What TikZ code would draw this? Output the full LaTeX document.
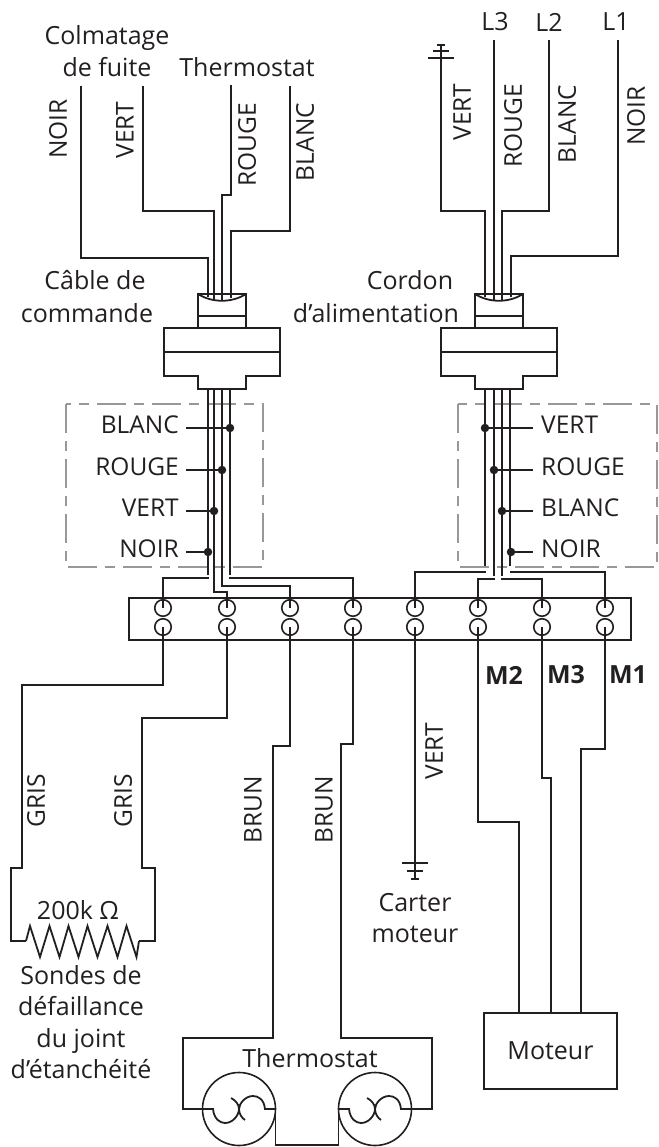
\documentclass[tikz,border=0pt]{standalone}
\usepackage{fontspec}
\setmainfont{Open Sans}
\usetikzlibrary{positioning}
\definecolor{ink}{HTML}{231F20}
\definecolor{dashgray}{HTML}{989898}
\tikzstyle{wire} = [color=ink,line width=1.8pt,line join=miter]
\tikzstyle{dashbox} = [color=dashgray,line width=1.6pt,dash pattern=on 29pt off 8pt on 10pt off 8pt]
\tikzstyle{tag} = [text=ink,font=\fontsize{24.5}{30}\selectfont,inner sep=0pt]
\tikzstyle{capt} = [tag,align=center,font=\fontsize{25}{31.5}\selectfont]
\tikzstyle{term} = [circle,draw=ink,line width=1.6pt,minimum size=16.5pt,inner sep=0pt,outer sep=0pt]
\tikzstyle{dot} = [circle,fill=ink,minimum size=8.5pt,inner sep=0pt,outer sep=0pt]
\tikzstyle{bulb} = [circle,draw=ink,line width=1.6pt,minimum size=73pt,inner sep=0pt,outer sep=0pt]
\tikzstyle{process} = [rectangle,draw=ink,line width=1.8pt,inner sep=0pt,outer sep=0pt]

\begin{document}
\begin{tikzpicture}[x=1pt,y=-1pt]
	\useasboundingbox (0,0) rectangle (658,1147);

	%captions
	\node (colm) [capt] at (107,51) {Colmatage\\de fuite};
	\node (thtop) [capt] at (247,67) {Thermostat};
	\node (L3) [capt] at (495,22) {L3};
	\node (L2) [capt] at (549,22) {L2};
	\node (L1) [capt] at (616,22) {L1};
	\node (cable) [capt] at (95,280) {Câble de};
	\node (comm) [capt] at (87,313) {commande};
	\node (cord) [capt] at (410,280) {Cordon};
	\node (alim) [capt] at (376,313) {d’alimentation};

	%wire colours, top
	\node (tN1) [tag,rotate=90] at (58,129) {NOIR};
	\node (tV1) [tag,rotate=90] at (125,130) {VERT};
	\node (tR1) [tag,rotate=90] at (247,145) {ROUGE};
	\node (tB1) [tag,rotate=90] at (305,142) {BLANC};
	\node (tV2) [tag,rotate=90] at (462,112) {VERT};
	\node (tR2) [tag,rotate=90] at (513,126) {ROUGE};
	\node (tB2) [tag,rotate=90] at (567,124) {BLANC};
	\node (tN2) [tag,rotate=90] at (636,116) {NOIR};

	%cable glands
	\foreach \gx in {222,499} {
		\begin{scope}[xshift=\gx pt]
			\draw [wire] (-24,328) -- (-24,294) -- (24,294) -- (24,328);
			\draw [wire] (-24,294) .. controls (-10,303) and (10,303) .. (24,294);
			\draw [wire] (-24,316) -- (24,316);
			\draw [wire] (-24,328) -- (-58,328) -- (-58,376) -- (-24,376) -- (-24,389) -- (24,389) -- (24,376) -- (58,376) -- (58,328) -- (24,328) -- cycle;
			\draw [wire] (-58,352) -- (58,352);
		\end{scope}
	}

	%wires into left gland
	\coordinate (wN1) at (81,86);
	\coordinate (wV1) at (143,86);
	\coordinate (wR1) at (231,85);
	\coordinate (wB1) at (290,86);
	\coordinate (gN1) at (208,297);
	\coordinate (gV1) at (214,299);
	\coordinate (gR1) at (222,300);
	\coordinate (gB1) at (231,298);
	\draw [wire] (wN1) |- (208,258) -- (gN1);
	\draw [wire] (wV1) |- (214,211) -- (gV1);
	\draw [wire] (wR1) |- (222,195) -- (gR1);
	\draw [wire] (wB1) |- (231,231) -- (gB1);

	%wires into right gland
	\coordinate (wV2) at (441,45);
	\coordinate (wR2) at (494,40);
	\coordinate (wB2) at (549,40);
	\coordinate (wN2) at (618,40);
	\coordinate (gV2) at (485,297);
	\coordinate (gR2) at (494,300);
	\coordinate (gB2) at (502,300);
	\coordinate (gN2) at (511,297);
	\draw [wire] (wV2) |- (485,211) -- (gV2);
	\draw [wire] (wR2) -- (gR2);
	\draw [wire] (wB2) |- (502,211) -- (gB2);
	\draw [wire] (wN2) |- (511,256) -- (gN2);
	\draw [wire] (wV2) ++(-4,0) -- ++(8,0);
	\draw [wire] (wV2) ++(-8,6) -- ++(16,0);
	\draw [wire] (wV2) ++(-13,13) -- ++(26,0);

	%dashed boxes
	\draw [dashbox] (66,404) rectangle (263,567);
	\draw [dashbox] (458,404) rectangle (657,567);

	%terminal block
	\node (block) [process,minimum width=502pt,minimum height=42pt] at (380,619) {};
	\foreach \i/\tx in {1/163,2/227,3/290,4/353,5/415,6/478,7/542,8/605} {
		\node (Tu\i) [term] at (\tx,608) {};
		\node (Td\i) [term] at (\tx,627) {};
	}

	%wires out of left gland
	\coordinate (bN1) at (208,389);
	\coordinate (bV1) at (214,389);
	\coordinate (bR1) at (222,389);
	\coordinate (bB1) at (230,389);
	\coordinate (eN1) at (208,575);
	\coordinate (eB1) at (230,575);
	\coordinate (hN1) at (209,578);
	\coordinate (hB1) at (229,578);
	\draw [wire] (bN1) -- (eN1);
	\draw [wire] (hN1) -| (Tu1.center);
	\draw [wire] (bV1) |- (227,592) -- (Tu2.center);
	\draw [wire] (bR1) |- (290,586) -- (Tu3.center);
	\draw [wire] (bB1) -- (eB1);
	\draw [wire] (hB1) -| (Tu4.center);

	%wires out of right gland
	\coordinate (bV2) at (485,389);
	\coordinate (bR2) at (494,389);
	\coordinate (bB2) at (502,389);
	\coordinate (bN2) at (510,389);
	\coordinate (eV2) at (485,566);
	\coordinate (eR2) at (494,576);
	\coordinate (eB2) at (502,576);
	\coordinate (eN2) at (510,566);
	\coordinate (hV2) at (486,572);
	\coordinate (hR2) at (495,579);
	\coordinate (hB2) at (501,579);
	\coordinate (hN2) at (510,572);
	\draw [wire] (bV2) -- (eV2);
	\draw [wire] (bR2) -- (eR2);
	\draw [wire] (bB2) -- (eB2);
	\draw [wire] (bN2) -- (eN2);
	\draw [wire] (hV2) -| (Tu5.center);
	\draw [wire] (hR2) -| (Tu6.center);
	\draw [wire] (hB2) -| (Tu7.center);
	\draw [wire] (hN2) -| (Tu8.center);

	%taps, left
	\foreach \n/\txt/\px/\py in {a/BLANC/230/428,b/ROUGE/222/470,c/VERT/214/511,d/NOIR/208/552} {
		\node (dl\n) [dot] at (\px,\py) {};
		\node (ll\n) [tag,anchor=east] at (179,\py-3) {\txt};
		\draw [wire] ([xshift=7pt]ll\n.east |- dl\n) -- (dl\n);
	}
	%taps, right
	\foreach \n/\txt/\px/\py in {a/VERT/485/428,b/ROUGE/494/470,c/BLANC/502/511,d/NOIR/511/552} {
		\node (dr\n) [dot] at (\px,\py) {};
		\node (lr\n) [tag,anchor=west] at (541,\py-3) {\txt};
		\draw [wire] (dr\n) -- ([xshift=-8pt]lr\n.west |- dr\n);
	}

	%motor side
	\node (M2) [tag,font=\fontsize{25}{30}\selectfont\bfseries] at (504,675) {M2};
	\node (M3) [tag,font=\fontsize{25}{30}\selectfont\bfseries] at (566,675) {M3};
	\node (M1) [tag,font=\fontsize{25}{30}\selectfont\bfseries] at (628,675) {M1};
	\node (moteur) [process,capt,minimum width=133pt,minimum height=76pt] at (550.5,1051) {Moteur};
	\draw [wire] (Td6.center) |- (519,822) -- (519,1013);
	\draw [wire] (Td7.center) |- (551,778) -- (551,1013);
	\draw [wire] (Td8.center) |- (581,749) -- (581,1013);

	%frame ground
	\coordinate (gnd) at (415,863);
	\draw [wire] (Td5.center) -- (gnd);
	\draw [wire] (gnd) ++(-13,0) -- ++(26,0);
	\draw [wire] (gnd) ++(-8,8) -- ++(16,0);
	\draw [wire] (gnd) ++(-4,16) -- ++(8,0);
	\draw [wire] (gnd) -- ++(0,16);
	\node (vert3) [tag,rotate=90] at (434,751) {VERT};
	\node (carter) [capt] at (415,918) {Carter\\moteur};

	%seal probes
	\node (g1) [tag,rotate=90] at (36,801) {GRIS};
	\node (g2) [tag,rotate=90] at (123,801) {GRIS};
	\coordinate (resL) at (26,941);
	\coordinate (resR) at (139,941);
	\draw [wire] (Td1.center) |- (22,685) |- (11,868) |- (resL);
	\draw [wire] (Td2.center) |- (142,718) |- (155,868) |- (resR);
	\draw [wire] (resL) -- ++(4,-15)
		-- ++(10,31) -- ++(9.5,-31) -- ++(10,31) -- ++(9,-31) -- ++(10,31)
		-- ++(9,-31) -- ++(10,31) -- ++(10,-31) -- ++(10,31) -- ++(9,-31)
		-- ++(10,31) -- (resR);
	\node (ohm) [capt] at (78,910) {200k Ω};
	\node (sondes) [capt] at (81,1022) {Sondes de\\défaillance\\du joint\\d’étanchéité};

	%thermostat
	\node (b1) [tag,rotate=90] at (253,810) {BRUN};
	\node (b2) [tag,rotate=90] at (324,810) {BRUN};
	\node (thbot) [capt] at (310,1058) {Thermostat};
	\node (thL) [bulb] at (239,1109) {};
	\node (thR) [bulb] at (375,1109) {};
	\coordinate (thB) at (307,1145);
	\draw [wire] (Td3.center) |- (273,746) |- (183,1038) |- (thL.west);
	\draw [wire] (Td4.center) |- (341,744) |- (432,1038) |- (thR.east);
	\draw [wire] (thL.east) -- (thL.east |- thB) -- (thR.west |- thB) -- (thR.west);
	\foreach \th in {thL,thR} {
		\begin{scope}[shift={(\th.center)}]
			\draw [wire] (\th.west) -- (-26,0) .. controls (-25,10) and (-19,14) .. (-14,14) .. controls (-6,14) and (0,6) .. (0,0) .. controls (0,-5) and (-4,-9) .. (-8,-11);
			\draw [wire] (\th.east) -- (26,0) .. controls (25,-10) and (19,-13) .. (14,-13) .. controls (6,-13) and (0,-5) .. (0,0) .. controls (0,5) and (3,9) .. (6,11);
		\end{scope}
	}
\end{tikzpicture}
\end{document}
